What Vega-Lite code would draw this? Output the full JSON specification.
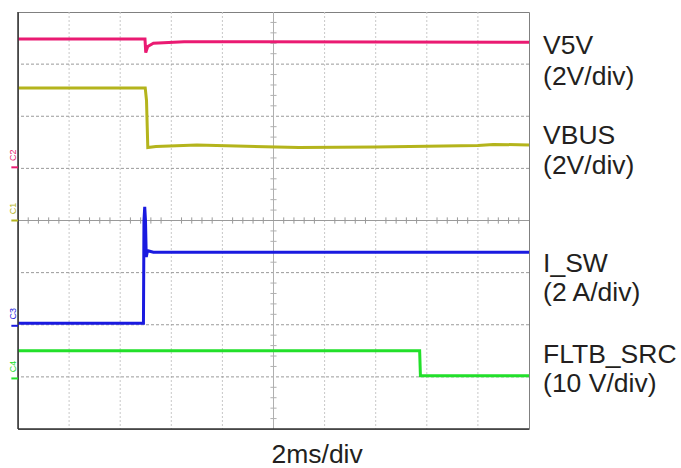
{
  "$schema": "https://vega.github.io/schema/vega-lite/v6.json",
  "width": 511,
  "height": 417,
  "autosize": {"type": "none"},
  "padding": {"left": 18, "top": 12, "right": 152, "bottom": 39},
  "background": "white",
  "config": {"view": {"stroke": "#808080", "strokeWidth": 1}, "font": "Liberation Sans"},
  "datasets": {
    "vgrid": [{"t": 2}, {"t": 4}, {"t": 6}, {"t": 8}, {"t": 12}, {"t": 14}, {"t": 16}, {"t": 18}],
    "hgrid": [{"d": 1}, {"d": 2}, {"d": 3}, {"d": 5}, {"d": 6}, {"d": 7}],
    "xticks": [{"t": 0.4}, {"t": 0.8}, {"t": 1.2}, {"t": 1.6}, {"t": 2.4}, {"t": 2.8}, {"t": 3.2}, {"t": 3.6}, {"t": 4.4}, {"t": 4.8}, {"t": 5.2}, {"t": 5.6}, {"t": 6.4}, {"t": 6.8}, {"t": 7.2}, {"t": 7.6}, {"t": 8.4}, {"t": 8.8}, {"t": 9.2}, {"t": 9.6}, {"t": 10.4}, {"t": 10.8}, {"t": 11.2}, {"t": 11.6}, {"t": 12.4}, {"t": 12.8}, {"t": 13.2}, {"t": 13.6}, {"t": 14.4}, {"t": 14.8}, {"t": 15.2}, {"t": 15.6}, {"t": 16.4}, {"t": 16.8}, {"t": 17.2}, {"t": 17.6}, {"t": 18.4}, {"t": 18.8}, {"t": 19.2}, {"t": 19.6}],
    "yticks": [{"d": 0.2}, {"d": 0.4}, {"d": 0.6}, {"d": 0.8}, {"d": 1.2}, {"d": 1.4}, {"d": 1.6}, {"d": 1.8}, {"d": 2.2}, {"d": 2.4}, {"d": 2.6}, {"d": 2.8}, {"d": 3.2}, {"d": 3.4}, {"d": 3.6}, {"d": 3.8}, {"d": 4.2}, {"d": 4.4}, {"d": 4.6}, {"d": 4.8}, {"d": 5.2}, {"d": 5.4}, {"d": 5.6}, {"d": 5.8}, {"d": 6.2}, {"d": 6.4}, {"d": 6.6}, {"d": 6.8}, {"d": 7.2}, {"d": 7.4}, {"d": 7.6}, {"d": 7.8}],
    "traces": [
      {"s": "V5V", "t": 0, "d": 7.48},
      {"s": "V5V", "t": 4.97, "d": 7.48},
      {"s": "V5V", "t": 5.0, "d": 7.22},
      {"s": "V5V", "t": 5.08, "d": 7.34},
      {"s": "V5V", "t": 5.3, "d": 7.40},
      {"s": "V5V", "t": 6.5, "d": 7.43},
      {"s": "V5V", "t": 20, "d": 7.42},
      {"s": "VBUS", "t": 0, "d": 6.54},
      {"s": "VBUS", "t": 4.98, "d": 6.54},
      {"s": "VBUS", "t": 5.03, "d": 6.3},
      {"s": "VBUS", "t": 5.08, "d": 5.40},
      {"s": "VBUS", "t": 5.4, "d": 5.42},
      {"s": "VBUS", "t": 7.0, "d": 5.45},
      {"s": "VBUS", "t": 11.0, "d": 5.40},
      {"s": "VBUS", "t": 14.0, "d": 5.41},
      {"s": "VBUS", "t": 18.0, "d": 5.44},
      {"s": "VBUS", "t": 18.6, "d": 5.46},
      {"s": "VBUS", "t": 20, "d": 5.45},
      {"s": "I_SW", "t": 0, "d": 2.03},
      {"s": "I_SW", "t": 4.91, "d": 2.03},
      {"s": "I_SW", "t": 4.93, "d": 4.0},
      {"s": "I_SW", "t": 4.96, "d": 4.26},
      {"s": "I_SW", "t": 4.99, "d": 4.0},
      {"s": "I_SW", "t": 5.02, "d": 3.3},
      {"s": "I_SW", "t": 5.07, "d": 3.42},
      {"s": "I_SW", "t": 5.3, "d": 3.39},
      {"s": "I_SW", "t": 20, "d": 3.39},
      {"s": "FLTB_SRC", "t": 0, "d": 1.50},
      {"s": "FLTB_SRC", "t": 15.72, "d": 1.50},
      {"s": "FLTB_SRC", "t": 15.75, "d": 1.02},
      {"s": "FLTB_SRC", "t": 20, "d": 1.02}
    ],
    "labels": [
      {"t": 20.55, "d": 7.19, "label": "V5V"},
      {"t": 20.55, "d": 6.60, "label": "(2V/div)"},
      {"t": 20.55, "d": 5.47, "label": "VBUS"},
      {"t": 20.55, "d": 4.89, "label": "(2V/div)"},
      {"t": 20.55, "d": 3.01, "label": "I_SW"},
      {"t": 20.55, "d": 2.455, "label": "(2 A/div)"},
      {"t": 20.55, "d": 1.266, "label": "FLTB_SRC"},
      {"t": 20.55, "d": 0.71, "label": "(10 V/div)"},
      {"t": 9.92, "d": -0.65, "label": "2ms/div"}
    ],
    "markers": [
      {"s": "V5V", "ch": "C2", "d": 5.02, "dt": 5.25},
      {"s": "VBUS", "ch": "C1", "d": 4.0, "dt": 4.23},
      {"s": "I_SW", "ch": "C3", "d": 1.98, "dt": 2.21},
      {"s": "FLTB_SRC", "ch": "C4", "d": 0.97, "dt": 1.2}
    ]
  },
  "layer": [
    {
      "data": {"name": "vgrid"},
      "mark": {"type": "rule", "color": "#c8c8c8", "strokeWidth": 1, "strokeDash": [2, 2]},
      "encoding": {"x": {"field": "t", "type": "quantitative", "scale": {"domain": [0, 20], "nice": false, "zero": false}, "axis": null}}
    },
    {
      "data": {"name": "hgrid"},
      "mark": {"type": "rule", "color": "#9a9a9a", "strokeWidth": 1, "strokeDash": [3, 2]},
      "encoding": {"y": {"field": "d", "type": "quantitative", "scale": {"domain": [0, 8], "nice": false, "zero": false}, "axis": null}}
    },
    {
      "data": {"values": [{"t": 10}]},
      "mark": {"type": "rule", "color": "#b0b0b0", "strokeWidth": 1},
      "encoding": {"x": {"field": "t", "type": "quantitative"}}
    },
    {
      "data": {"values": [{"d": 4}]},
      "mark": {"type": "rule", "color": "#9a9a9a", "strokeWidth": 1},
      "encoding": {"y": {"field": "d", "type": "quantitative"}}
    },
    {
      "data": {"name": "xticks"},
      "mark": {"type": "rule", "color": "#9a9a9a", "strokeWidth": 1},
      "encoding": {"x": {"field": "t", "type": "quantitative"}, "y": {"datum": 3.94}, "y2": {"datum": 4.06}}
    },
    {
      "data": {"name": "yticks"},
      "mark": {"type": "rule", "color": "#b0b0b0", "strokeWidth": 1},
      "encoding": {"y": {"field": "d", "type": "quantitative"}, "x": {"datum": 9.88}, "x2": {"datum": 10.12}}
    },
    {
      "data": {"name": "traces"},
      "mark": {"type": "line", "strokeWidth": 3, "interpolate": "linear", "strokeJoin": "miter"},
      "encoding": {
        "x": {"field": "t", "type": "quantitative"},
        "y": {"field": "d", "type": "quantitative"},
        "color": {"field": "s", "type": "nominal", "legend": null,
          "scale": {"domain": ["V5V", "VBUS", "I_SW", "FLTB_SRC"], "range": ["#ea1a72", "#b4b41c", "#1a1ae0", "#22e02a"]}},
        "detail": {"field": "s"}
      }
    },
    {
      "data": {"values": [{"t": 0}]},
      "mark": {"type": "rule", "color": "#333333", "strokeWidth": 1.5},
      "encoding": {"x": {"field": "t", "type": "quantitative"}}
    },
    {
      "data": {"values": [{"d": 0}]},
      "mark": {"type": "rule", "color": "#333333", "strokeWidth": 1.5},
      "encoding": {"y": {"field": "d", "type": "quantitative"}}
    },
    {
      "data": {"name": "markers"},
      "mark": {"type": "rule", "strokeWidth": 2, "clip": false},
      "encoding": {
        "x": {"datum": -0.26},
        "x2": {"datum": 0},
        "y": {"field": "d", "type": "quantitative"},
        "color": {"field": "s", "type": "nominal", "legend": null}
      }
    },
    {
      "data": {"name": "markers"},
      "mark": {"type": "text", "fontSize": 9, "angle": 270, "align": "center", "baseline": "middle", "clip": false},
      "encoding": {
        "x": {"datum": -0.2},
        "y": {"field": "dt", "type": "quantitative"},
        "text": {"field": "ch"},
        "color": {"field": "s", "type": "nominal", "legend": null}
      }
    },
    {
      "data": {"name": "labels"},
      "mark": {"type": "text", "fontSize": 26.5, "align": "left", "baseline": "alphabetic", "color": "#231f20"},
      "encoding": {
        "x": {"field": "t", "type": "quantitative"},
        "y": {"field": "d", "type": "quantitative"},
        "text": {"field": "label"}
      }
    }
  ]
}
